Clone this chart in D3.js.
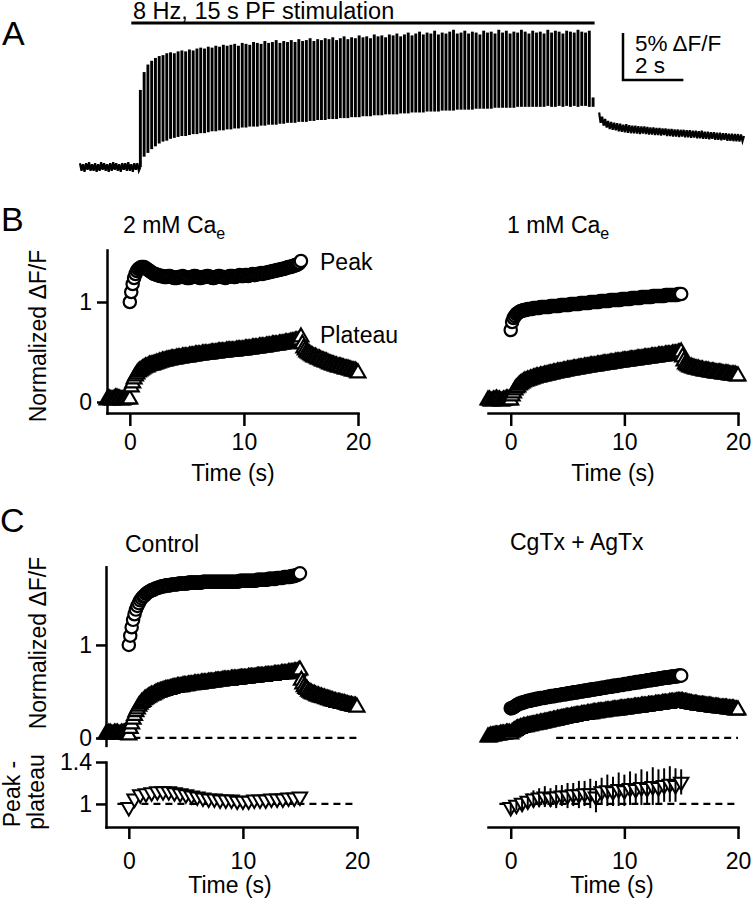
<!DOCTYPE html>
<html><head><meta charset="utf-8">
<script src="https://cdn.jsdelivr.net/npm/d3@7"></script>
<style>
body{margin:0;background:#fff;}
svg{display:block;background:#fff;font-family:"Liberation Sans",Arial,Helvetica,sans-serif;}
</style></head><body>
<svg id="chart" width="751" height="899"></svg>
<script>
// ---------------- DATA ----------------
// Panel A: fluorescence trace (% dF/F)
const preTrace = [
 0.4,-0.4,0.3,-0.5,0.4,-0.3,0.5,-0.4,0.3,-0.4,
 0.4,-0.5,0.3,-0.4,0.5,-0.3,0.4,-0.4,0.3,-0.5,
 0.4,-0.4,0.5,-0.3,0.4,-0.4,0.3,-0.5,0.4,-0.3,
 0.4,-0.4,0.5,-0.4,0.3,-0.5,0.4,-0.3,0.4,-0.4,
 0.0];
const pulseHi = [
 8.2,10.1,10.9,11.3,11.6,11.8,11.9,12.1,
 12.2,12.1,12.3,12.4,12.3,12.5,12.4,12.6,
 12.7,12.6,12.8,12.7,12.9,12.8,13.0,12.9,
 13.0,13.1,12.9,13.2,13.1,13.0,13.3,13.2,
 13.1,13.4,13.2,13.3,13.5,13.2,13.4,13.3,
 13.5,13.3,13.6,13.4,13.5,13.7,13.4,13.6,
 13.5,13.7,13.6,13.8,13.5,13.7,13.9,13.6,
 13.8,13.7,14.0,13.8,13.9,13.7,14.1,13.9,
 14.0,13.8,14.1,14.0,14.2,13.9,14.1,14.3,
 14.0,14.2,14.4,14.1,14.3,14.2,14.5,14.1,
 14.3,14.2,14.4,14.6,14.2,14.3,14.5,14.2,
 14.4,14.3,14.1,14.5,14.3,14.4,14.2,14.6,
 14.3,14.5,14.2,14.4,14.3,14.6,14.4,14.2,
 14.5,14.3,14.4,14.2,14.6,14.3,14.5,14.4,
 14.2,14.5,14.4,14.3,14.6,14.4,14.3,14.5,
 7.4];
const pulseLo = [
 0.0,1.1,1.5,1.9,2.2,2.5,2.7,2.8,
 3.0,3.1,3.2,3.3,3.3,3.4,3.5,3.5,
 3.6,3.6,3.7,3.8,3.8,3.9,3.9,4.0,
 4.0,4.1,4.1,4.2,4.2,4.3,4.3,4.3,
 4.4,4.4,4.5,4.5,4.5,4.6,4.6,4.7,
 4.7,4.7,4.8,4.8,4.8,4.9,4.9,5.0,
 5.0,5.0,5.1,5.1,5.1,5.2,5.2,5.2,
 5.3,5.3,5.3,5.4,5.4,5.4,5.5,5.5,
 5.5,5.6,5.6,5.6,5.6,5.7,5.7,5.7,
 5.8,5.8,5.8,5.8,5.9,5.9,5.9,5.9,
 6.0,6.0,6.0,6.0,6.1,6.1,6.1,6.1,
 6.1,6.2,6.2,6.2,6.2,6.2,6.3,6.3,
 6.3,6.3,6.3,6.3,6.4,6.4,6.4,6.4,
 6.4,6.4,6.4,6.4,6.5,6.4,6.4,6.5,
 6.4,6.5,6.4,6.5,6.4,6.5,6.5,6.4,
 6.4];
const postTrace = [
 5.8,4.7,5.35,4.4,5.1,4.2,4.9,4.05,4.8,3.95,
 4.7,3.9,4.65,3.8,4.6,3.75,4.5,3.7,4.55,3.65,
 4.45,3.6,4.4,3.6,4.4,3.55,4.35,3.5,4.3,3.55,
 4.3,3.5,4.25,3.45,4.2,3.45,4.2,3.4,4.15,3.4,
 4.15,3.35,4.1,3.4,4.1,3.3,4.05,3.3,4.05,3.25,
 4.0,3.25,4.0,3.2,3.95,3.25,3.95,3.15,3.9,3.15,
 3.9,3.1,3.85,3.15,3.85,3.05,3.8,3.05,3.85,3.0,
 3.75,3.0,3.75,2.95,3.7,3.0,3.7,2.9,3.65,2.9,
 3.65,2.85,3.6,2.9,3.6,2.8,3.55,2.8,3.55,2.75,
 3.5,2.75,3.5,2.7,3.45,2.75,3.3];
const stimBarTimes = [-0.3, 15.05];
const scaleBarValues = {dff: 5, sec: 2};

// sampling grids (s)
const tPulse = d3.range(121).map(i => i / 8);
const tPre = d3.range(41).map(i => -2 + i * 0.05);
const tPost = d3.range(97).map(i => 15.2 + i * 0.05);
const tPeak = d3.range(121).map(i => i / 8);
const tPlat = d3.range(177).map(i => -2 + i / 8);
const tRatio = d3.range(31).map(i => i * 0.5);

// Panel B: 2 mM Ca
const peak2mM = [
 1.00,1.10,1.18,1.24,1.28,1.31,1.33,1.34,
 1.35,1.35,1.35,1.34,1.33,1.32,1.31,1.30,
 1.29,1.28,1.28,1.27,1.27,1.26,1.26,1.26,
 1.25,1.25,1.25,1.26,1.26,1.25,1.25,1.24,
 1.24,1.24,1.25,1.25,1.25,1.26,1.25,1.25,
 1.24,1.24,1.24,1.25,1.25,1.26,1.26,1.25,
 1.25,1.24,1.24,1.25,1.25,1.25,1.26,1.26,
 1.25,1.25,1.24,1.24,1.25,1.25,1.26,1.26,
 1.25,1.25,1.25,1.24,1.25,1.25,1.26,1.26,
 1.26,1.25,1.25,1.26,1.26,1.27,1.26,1.26,
 1.26,1.27,1.27,1.26,1.27,1.27,1.28,1.27,
 1.27,1.28,1.28,1.28,1.29,1.28,1.29,1.29,
 1.29,1.30,1.30,1.30,1.31,1.31,1.31,1.32,
 1.32,1.32,1.33,1.33,1.33,1.34,1.34,1.35,
 1.35,1.35,1.36,1.36,1.37,1.37,1.38,1.39,
 1.41];
const plat2mM = [
 0.02,0.03,0.03,0.02,0.02,0.03,0.04,0.04,
 0.03,0.03,0.02,0.02,0.03,0.03,0.04,0.03,
 0.03,0.15,0.19,0.23,0.26,0.28,0.30,0.31,
 0.32,0.33,0.34,0.35,0.35,0.36,0.37,0.37,
 0.37,0.38,0.38,0.39,0.39,0.40,0.40,0.41,
 0.41,0.41,0.42,0.42,0.42,0.43,0.43,0.43,
 0.43,0.44,0.44,0.44,0.44,0.45,0.45,0.45,
 0.45,0.45,0.46,0.46,0.46,0.46,0.47,0.47,
 0.47,0.47,0.47,0.48,0.48,0.48,0.48,0.48,
 0.48,0.49,0.49,0.49,0.49,0.49,0.50,0.50,
 0.50,0.50,0.50,0.50,0.51,0.51,0.51,0.51,
 0.51,0.51,0.51,0.52,0.52,0.52,0.52,0.52,
 0.52,0.53,0.53,0.53,0.53,0.53,0.54,0.54,
 0.54,0.54,0.54,0.55,0.55,0.55,0.55,0.55,
 0.56,0.56,0.56,0.56,0.57,0.57,0.57,0.57,
 0.57,0.58,0.58,0.58,0.58,0.59,0.59,0.59,
 0.59,0.60,0.60,0.60,0.61,0.61,0.61,0.62,
 0.65,0.58,0.54,0.52,0.50,0.49,0.48,0.47,
 0.46,0.45,0.45,0.44,0.43,0.43,0.42,0.41,
 0.41,0.40,0.40,0.39,0.38,0.38,0.37,0.37,
 0.36,0.36,0.35,0.35,0.35,0.34,0.34,0.33,
 0.33,0.33,0.32,0.32,0.31,0.31,0.31,0.30,
 0.29];
// Panel B: 1 mM Ca
const peak1mM = [
 0.72,0.80,0.84,0.86,0.88,0.89,0.90,0.91,
 0.91,0.92,0.92,0.92,0.93,0.93,0.93,0.93,
 0.94,0.94,0.94,0.94,0.94,0.95,0.95,0.95,
 0.95,0.95,0.95,0.95,0.96,0.96,0.96,0.96,
 0.96,0.96,0.96,0.97,0.97,0.97,0.97,0.97,
 0.97,0.97,0.98,0.98,0.98,0.98,0.98,0.98,
 0.98,0.99,0.99,0.99,0.99,0.99,0.99,0.99,
 1.00,1.00,1.00,1.00,1.00,1.00,1.00,1.01,
 1.01,1.01,1.01,1.01,1.01,1.01,1.02,1.02,
 1.02,1.02,1.02,1.02,1.02,1.02,1.03,1.03,
 1.03,1.03,1.03,1.03,1.03,1.04,1.04,1.04,
 1.04,1.04,1.04,1.04,1.05,1.05,1.05,1.05,
 1.05,1.05,1.05,1.05,1.06,1.06,1.06,1.06,
 1.06,1.06,1.06,1.06,1.06,1.07,1.07,1.07,
 1.07,1.07,1.07,1.07,1.07,1.07,1.08,1.08,
 1.08];
const plat1mM = [
 0.02,0.02,0.01,0.01,0.02,0.02,0.03,0.02,
 0.02,0.01,0.01,0.02,0.02,0.03,0.03,0.02,
 0.02,0.06,0.09,0.12,0.14,0.15,0.17,0.18,
 0.19,0.20,0.21,0.21,0.22,0.22,0.23,0.23,
 0.24,0.24,0.25,0.25,0.25,0.26,0.26,0.26,
 0.27,0.27,0.27,0.28,0.28,0.28,0.29,0.29,
 0.29,0.30,0.30,0.30,0.30,0.31,0.31,0.31,
 0.32,0.32,0.32,0.32,0.33,0.33,0.33,0.33,
 0.34,0.34,0.34,0.34,0.35,0.35,0.35,0.35,
 0.36,0.36,0.36,0.36,0.36,0.37,0.37,0.37,
 0.37,0.38,0.38,0.38,0.38,0.38,0.39,0.39,
 0.39,0.39,0.40,0.40,0.40,0.40,0.40,0.41,
 0.41,0.41,0.41,0.41,0.42,0.42,0.42,0.42,
 0.42,0.43,0.43,0.43,0.43,0.43,0.44,0.44,
 0.44,0.44,0.44,0.45,0.45,0.45,0.45,0.45,
 0.46,0.46,0.46,0.46,0.46,0.47,0.47,0.47,
 0.47,0.47,0.48,0.48,0.48,0.48,0.49,0.49,
 0.50,0.45,0.41,0.38,0.37,0.36,0.35,0.35,
 0.34,0.34,0.33,0.33,0.33,0.32,0.32,0.32,
 0.31,0.31,0.31,0.31,0.30,0.30,0.30,0.30,
 0.29,0.29,0.29,0.29,0.29,0.28,0.28,0.28,
 0.28,0.28,0.27,0.27,0.27,0.27,0.27,0.26,
 0.26];
// Panel C: Control
const peakCtrl = [
 1.00,1.10,1.19,1.27,1.33,1.38,1.42,1.45,
 1.48,1.50,1.52,1.53,1.55,1.56,1.57,1.58,
 1.59,1.59,1.60,1.61,1.61,1.62,1.62,1.63,
 1.63,1.63,1.64,1.64,1.64,1.64,1.65,1.65,
 1.65,1.65,1.65,1.66,1.66,1.66,1.66,1.66,
 1.66,1.66,1.67,1.67,1.67,1.67,1.67,1.67,
 1.67,1.67,1.67,1.67,1.68,1.68,1.68,1.68,
 1.68,1.68,1.68,1.68,1.68,1.68,1.68,1.68,
 1.68,1.68,1.68,1.68,1.68,1.68,1.68,1.68,
 1.68,1.68,1.68,1.68,1.68,1.68,1.69,1.69,
 1.69,1.69,1.69,1.69,1.69,1.69,1.69,1.69,
 1.69,1.69,1.70,1.70,1.70,1.70,1.70,1.70,
 1.70,1.70,1.71,1.71,1.71,1.71,1.71,1.71,
 1.72,1.72,1.72,1.72,1.72,1.73,1.73,1.73,
 1.73,1.73,1.74,1.74,1.74,1.75,1.75,1.76,
 1.77];
const platCtrl = [
 0.04,0.04,0.05,0.05,0.04,0.04,0.05,0.05,
 0.05,0.04,0.04,0.05,0.05,0.05,0.04,0.04,
 0.03,0.10,0.15,0.20,0.24,0.28,0.31,0.34,
 0.36,0.38,0.39,0.41,0.42,0.43,0.44,0.45,
 0.46,0.46,0.47,0.48,0.49,0.49,0.50,0.50,
 0.51,0.51,0.52,0.52,0.52,0.53,0.53,0.54,
 0.54,0.54,0.55,0.55,0.55,0.55,0.56,0.56,
 0.56,0.56,0.57,0.57,0.57,0.57,0.58,0.58,
 0.58,0.58,0.58,0.59,0.59,0.59,0.59,0.59,
 0.60,0.60,0.60,0.60,0.60,0.61,0.61,0.61,
 0.61,0.61,0.62,0.62,0.62,0.62,0.62,0.62,
 0.63,0.63,0.63,0.63,0.63,0.63,0.64,0.64,
 0.64,0.64,0.64,0.64,0.65,0.65,0.65,0.65,
 0.65,0.65,0.66,0.66,0.66,0.66,0.66,0.66,
 0.67,0.67,0.67,0.67,0.67,0.67,0.68,0.68,
 0.68,0.68,0.68,0.69,0.69,0.69,0.69,0.69,
 0.70,0.70,0.70,0.70,0.71,0.71,0.71,0.72,
 0.73,0.62,0.58,0.55,0.53,0.52,0.50,0.49,
 0.48,0.47,0.47,0.46,0.45,0.45,0.44,0.44,
 0.43,0.43,0.42,0.42,0.41,0.41,0.40,0.40,
 0.39,0.39,0.38,0.38,0.38,0.37,0.37,0.37,
 0.36,0.36,0.35,0.35,0.35,0.34,0.34,0.34,
 0.33];
// Panel C: CgTx + AgTx
const peakToxin = [
 0.32,0.32,0.33,0.34,0.35,0.36,0.37,0.37,
 0.38,0.38,0.39,0.39,0.40,0.40,0.40,0.41,
 0.41,0.41,0.42,0.42,0.42,0.43,0.43,0.43,
 0.43,0.44,0.44,0.44,0.45,0.45,0.45,0.45,
 0.46,0.46,0.46,0.46,0.47,0.47,0.47,0.47,
 0.48,0.48,0.48,0.48,0.49,0.49,0.49,0.49,
 0.50,0.50,0.50,0.50,0.51,0.51,0.51,0.51,
 0.52,0.52,0.52,0.52,0.53,0.53,0.53,0.53,
 0.54,0.54,0.54,0.54,0.55,0.55,0.55,0.55,
 0.56,0.56,0.56,0.56,0.57,0.57,0.57,0.57,
 0.58,0.58,0.58,0.58,0.59,0.59,0.59,0.59,
 0.60,0.60,0.60,0.60,0.61,0.61,0.61,0.61,
 0.62,0.62,0.62,0.62,0.63,0.63,0.63,0.63,
 0.64,0.64,0.64,0.64,0.65,0.65,0.65,0.65,
 0.65,0.66,0.66,0.66,0.66,0.66,0.67,0.67,
 0.67];
const platToxin = [
 0.01,0.01,0.02,0.02,0.02,0.03,0.03,0.03,
 0.03,0.04,0.04,0.04,0.04,0.05,0.05,0.05,
 0.04,0.06,0.07,0.08,0.09,0.10,0.10,0.11,
 0.11,0.12,0.12,0.12,0.13,0.13,0.13,0.14,
 0.14,0.14,0.15,0.15,0.15,0.16,0.16,0.16,
 0.17,0.17,0.17,0.18,0.18,0.18,0.19,0.19,
 0.19,0.20,0.20,0.20,0.21,0.21,0.21,0.22,
 0.22,0.22,0.22,0.23,0.23,0.23,0.24,0.24,
 0.24,0.24,0.25,0.25,0.25,0.25,0.26,0.26,
 0.26,0.26,0.27,0.27,0.27,0.27,0.28,0.28,
 0.28,0.28,0.28,0.29,0.29,0.29,0.29,0.29,
 0.30,0.30,0.30,0.30,0.30,0.31,0.31,0.31,
 0.31,0.31,0.32,0.32,0.32,0.32,0.32,0.33,
 0.33,0.33,0.33,0.33,0.34,0.34,0.34,0.34,
 0.34,0.35,0.35,0.35,0.35,0.35,0.36,0.36,
 0.36,0.36,0.36,0.37,0.37,0.37,0.37,0.37,
 0.38,0.38,0.38,0.38,0.38,0.39,0.39,0.39,
 0.39,0.39,0.38,0.38,0.38,0.37,0.37,0.37,
 0.36,0.36,0.36,0.36,0.35,0.35,0.35,0.35,
 0.35,0.34,0.34,0.34,0.34,0.34,0.33,0.33,
 0.33,0.33,0.33,0.32,0.32,0.32,0.32,0.32,
 0.32,0.31,0.31,0.31,0.31,0.31,0.30,0.30,
 0.30];
// Peak / plateau ratio (every 0.5 s)
const ratioCtrl = [0.97,1.05,1.09,1.10,1.11,1.12,1.12,1.12,1.11,1.10,1.09,1.08,1.07,1.06,1.05,1.05,
 1.04,1.04,1.04,1.03,1.03,1.03,1.04,1.04,1.04,1.05,1.05,1.05,1.06,1.06,1.07];
const ratioToxin = [0.97,0.99,1.01,1.03,1.05,1.06,1.07,1.06,1.07,1.08,1.08,1.09,1.09,1.10,1.10,1.07,
 1.12,1.13,1.12,1.14,1.13,1.15,1.14,1.16,1.15,1.17,1.16,1.18,1.19,1.18,1.21];
const ratioToxinErr = [0.06,0.05,0.06,0.07,0.08,0.09,0.10,0.09,0.11,0.10,0.12,0.11,0.13,0.12,0.14,0.15,
 0.13,0.15,0.14,0.16,0.15,0.16,0.15,0.17,0.16,0.18,0.17,0.16,0.17,0.16,0.12];

const xTicks = [0, 10, 20];

// ---------------- DRAW ----------------
const FS = 23;
const FONT = '"Liberation Sans",Arial,Helvetica,sans-serif';
const svg = d3.select("#chart");
svg.append("rect").attr("width", 751).attr("height", 899).attr("fill", "#fff");

function txt(x, y, s, opts = {}) {
  const t = svg.append("text").attr("x", x).attr("y", y).text(s)
    .attr("font-size", opts.fs || FS).attr("fill", "#000").attr("font-family", FONT);
  if (opts.anchor) t.attr("text-anchor", opts.anchor);
  if (opts.transform) t.attr("transform", opts.transform).attr("x", 0).attr("y", 0);
  return t;
}
function subTxt(x, y, main, sub) {
  const t = txt(x, y, main);
  t.append("tspan").attr("font-size", 16).attr("dy", 6).text(sub);
}
function styleAxis(g) {
  g.attr("font-size", FS).attr("font-family", FONT);
  g.selectAll("path.domain").attr("stroke", "#000").attr("stroke-width", 2.5).attr("stroke-linecap", "square");
  g.selectAll(".tick line").attr("stroke", "#000").attr("stroke-width", 2.5);
  g.selectAll(".tick text").attr("fill", "#000");
}
function pairs(ts, vals) { return vals.map((v, i) => ({t: ts[i], v})).filter(d => d.t !== undefined); }
// opaque (white-filled) markers drawn in time order
function markers(xs, ys, ts, vals, type, size, rot, sw, err) {
  const sym = d3.symbol().type(type).size(size);
  const pts = svg.append("g").selectAll("g").data(pairs(ts, vals)).join("g");
  pts.append("path")
    .attr("d", sym)
    .attr("transform", d => `translate(${xs(d.t)},${ys(d.v)})` + (rot ? " rotate(180)" : ""))
    .attr("fill", "#fff").attr("stroke", "#000").attr("stroke-width", sw || 2.2);
  if (err) {
    pts.append("line")
      .attr("x1", d => xs(d.t)).attr("x2", d => xs(d.t))
      .attr("y1", (d, i) => ys(d.v - err[i])).attr("y2", (d, i) => ys(d.v + err[i]))
      .attr("stroke", "#000").attr("stroke-width", 2);
  }
}
const CIRC = 120, TRI = 95;

// ----- Panel A -----
const xA = d3.scaleLinear().domain([-2, 20]).range([80, 744]);
const yA = d3.scaleLinear().domain([0, 5]).range([167, 120]);
const lineA = d3.line().x(d => xA(d.t)).y(d => yA(d.v));
svg.append("path").datum(pairs(tPre, preTrace)).attr("d", lineA)
  .attr("fill", "none").attr("stroke", "#000").attr("stroke-width", 2.2);
svg.append("path").datum(pairs(tPost, postTrace)).attr("d", lineA)
  .attr("fill", "none").attr("stroke", "#000").attr("stroke-width", 2.2);
svg.append("g").selectAll("line").data(pairs(tPulse, pulseHi)).join("line")
  .attr("x1", d => xA(d.t)).attr("x2", d => xA(d.t))
  .attr("y1", (d, i) => yA(pulseLo[i])).attr("y2", d => yA(d.v))
  .attr("stroke", "#000").attr("stroke-width", 2.9);
// stimulation bar
svg.append("line").attr("x1", xA(stimBarTimes[0])).attr("x2", xA(stimBarTimes[1]))
  .attr("y1", 23).attr("y2", 23).attr("stroke", "#000").attr("stroke-width", 3);
txt(133, 19, "8 Hz, 15 s PF stimulation", {fs: 23.5});
// scale bar
const sbX = 623, sbY = 80;
const sbH = yA(0) - yA(scaleBarValues.dff), sbW = xA(scaleBarValues.sec) - xA(0);
svg.append("path").attr("d", `M${sbX},${sbY - sbH}V${sbY}H${sbX + sbW}`)
  .attr("fill", "none").attr("stroke", "#000").attr("stroke-width", 2.5);
txt(635, 51, "5% \u0394F/F", {fs: 22.5});
txt(635, 73, "2 s", {fs: 22.5});
txt(2, 45, "A", {fs: 34});

// ----- Panel B -----
const xBL = d3.scaleLinear().domain([-2, 20]).range([107, 358]);
const xBR = d3.scaleLinear().domain([-2, 20]).range([488, 738]);
const yB = d3.scaleLinear().domain([-0.11, 1.52]).range([413, 250]);
txt(1, 231, "B", {fs: 34});
subTxt(123, 233, "2 mM Ca", "e");
subTxt(507, 233, "1 mM Ca", "e");
txt(320, 270, "Peak");
txt(320, 343, "Plateau");
txt(0, 0, "Normalized \u0394F/F", {anchor: "middle", transform: "translate(46,336) rotate(-90)"});

const fmt = d3.format("~g");
let g = svg.append("g").attr("transform", "translate(0,413)")
  .call(d3.axisBottom(xBL).tickValues(xTicks).tickSize(13).tickSizeOuter(0).tickPadding(8));
styleAxis(g);
g = svg.append("g").attr("transform", "translate(0,413)")
  .call(d3.axisBottom(xBR).tickValues(xTicks).tickSize(13).tickSizeOuter(0).tickPadding(8));
styleAxis(g);
g = svg.append("g").attr("transform", "translate(107,0)")
  .call(d3.axisLeft(yB).tickValues([0, 1]).tickFormat(fmt).tickSize(10).tickSizeOuter(0).tickPadding(5));
styleAxis(g);
txt(233, 481, "Time (s)", {anchor: "middle"});
txt(613, 481, "Time (s)", {anchor: "middle"});

markers(xBL, yB, tPlat, plat2mM, d3.symbolTriangle, TRI);
markers(xBL, yB, tPeak, peak2mM, d3.symbolCircle, CIRC);
markers(xBR, yB, tPlat, plat1mM, d3.symbolTriangle, TRI);
markers(xBR, yB, tPeak, peak1mM, d3.symbolCircle, CIRC);

// ----- Panel C -----
const xCL = d3.scaleLinear().domain([-2, 20]).range([106, 357]);
const xCR = d3.scaleLinear().domain([-2, 20]).range([488, 738]);
const yCU = d3.scaleLinear().domain([-0.08, 1.84]).range([745.4, 566.8]);
const yCL = d3.scaleLinear().domain([0.78, 1.4]).range([827, 762]);
txt(0, 532, "C", {fs: 34});
txt(125, 552, "Control");
txt(510, 550, "CgTx + AgTx");
txt(0, 0, "Normalized \u0394F/F", {anchor: "middle", transform: "translate(46,643) rotate(-90)"});
txt(0, 0, "Peak -", {anchor: "middle", transform: "translate(20,794) rotate(-90)"});
txt(0, 0, "plateau", {anchor: "middle", transform: "translate(44,792) rotate(-90)"});

g = svg.append("g").attr("transform", "translate(106,0)")
  .call(d3.axisLeft(yCU).tickValues([0, 1]).tickFormat(fmt).tickSize(10).tickSizeOuter(0).tickPadding(4));
styleAxis(g);
g = svg.append("g").attr("transform", "translate(106,0)")
  .call(d3.axisLeft(yCL).tickValues([1, 1.4]).tickFormat(fmt).tickSize(10).tickSizeOuter(0).tickPadding(4));
styleAxis(g);
g = svg.append("g").attr("transform", "translate(0,827)")
  .call(d3.axisBottom(xCL).tickValues(xTicks).tickSize(12).tickSizeOuter(0).tickPadding(14));
styleAxis(g);
g = svg.append("g").attr("transform", "translate(0,827)")
  .call(d3.axisBottom(xCR).tickValues(xTicks).tickSize(12).tickSizeOuter(0).tickPadding(14));
styleAxis(g);
txt(230, 893, "Time (s)", {anchor: "middle"});
txt(612, 893, "Time (s)", {anchor: "middle"});

// dashed reference lines
function dashed(xs, ys, v, t0, t1) {
  svg.append("line").attr("x1", xs(t0)).attr("x2", xs(t1)).attr("y1", ys(v)).attr("y2", ys(v))
    .attr("stroke", "#000").attr("stroke-width", 2.2).attr("stroke-dasharray", "7,5");
}
dashed(xCL, yCU, 0, 0.4, 20);
dashed(xCR, yCU, 0, 4, 20);
dashed(xCL, yCL, 1, -1, 20);
dashed(xCR, yCL, 1, -1, 20);

markers(xCL, yCU, tPlat, platCtrl, d3.symbolTriangle, TRI);
markers(xCL, yCU, tPeak, peakCtrl, d3.symbolCircle, CIRC);
markers(xCR, yCU, tPlat, platToxin, d3.symbolTriangle, TRI);
markers(xCR, yCU, tPeak, peakToxin, d3.symbolCircle, CIRC);

markers(xCL, yCL, tRatio, ratioCtrl, d3.symbolTriangle, 90, true, 2);
markers(xCR, yCL, tRatio, ratioToxin, d3.symbolTriangle, 90, true, 2, ratioToxinErr);
</script></body></html>
